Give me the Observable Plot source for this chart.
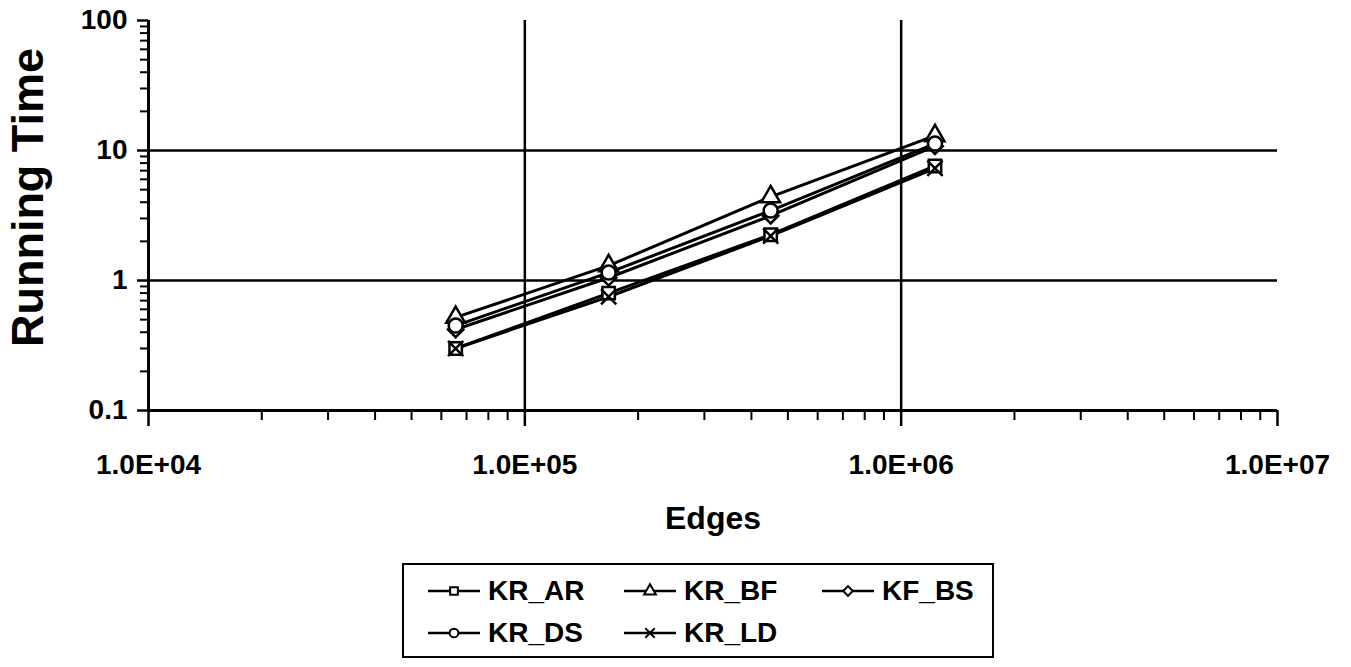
<!DOCTYPE html>
<html><head><meta charset="utf-8">
<script src="https://cdn.jsdelivr.net/npm/d3@7"></script>
<script src="https://cdn.jsdelivr.net/npm/@observablehq/plot@0.6"></script>
<style>
body{margin:0;background:#fff;font-family:"Liberation Sans",Arial,sans-serif;}
#wrap{position:relative;width:1351px;height:667px;overflow:hidden;}
#legend{position:absolute;left:402px;top:563px;width:588px;height:91px;border:2.5px solid #000;box-sizing:content-box;}
.item{position:absolute;display:flex;align-items:center;font-weight:bold;font-size:28px;height:32px;}
.item svg{margin-right:6px;}
</style></head><body>
<div id="wrap"><div id="chart"></div><div id="legend"></div></div>
<script>
// Data
const edges = [65500, 167000, 450000, 1230000];
const seriesNames = ["KR_AR", "KR_BF", "KF_BS", "KR_DS", "KR_LD"];
const KR_AR = [0.30, 0.80, 2.25, 7.6];
const KR_BF = [0.52, 1.30, 4.4, 13.0];
const KF_BS = [0.42, 1.05, 3.15, 10.8];
const KR_DS = [0.45, 1.15, 3.45, 11.3];
const KR_LD = [0.30, 0.75, 2.2, 7.3];
const seriesSymbols = ["square", "triangle", "diamond2", "circle", "times"];
const xTicks = [1e4, 1e5, 1e6, 1e7];
const xTickLabels = ["1.0E+04", "1.0E+05", "1.0E+06", "1.0E+07"];
const yTicks = [0.1, 1, 10, 100];
const yTickLabels = ["0.1", "1", "10", "100"];
const xTitle = "Edges";
const yTitle = "Running Time";

const values = [KR_AR, KR_BF, KF_BS, KR_DS, KR_LD];
const data = seriesNames.flatMap((s, i) => edges.map((e, j) => ({series: s, edges: e, time: values[i][j]})));
const minorX = [1e4, 1e5, 1e6].flatMap(d => [2,3,4,5,6,7,8,9].map(k => d * k));
const minorY = [0.1, 1, 10].flatMap(d => [2,3,4,5,6,7,8,9].map(k => d * k));
const font = "Liberation Sans, Arial, sans-serif";

const chart = Plot.plot({
  width: 1351, height: 545,
  marginLeft: 148, marginRight: 74, marginTop: 20, marginBottom: 135,
  style: {fontFamily: font, background: "#fff"},
  x: {type: "log", domain: [1e4, 1e7], axis: null},
  y: {type: "log", domain: [0.1, 100], axis: null},
  symbol: {domain: seriesNames, range: seriesSymbols},
  marks: [
    Plot.ruleX([1e5, 1e6], {stroke: "#000", strokeWidth: 2.5}),
    Plot.ruleY([1, 10], {stroke: "#000", strokeWidth: 2.5}),
    Plot.ruleX([1e4], {stroke: "#000", strokeWidth: 3}),
    Plot.ruleY([0.1], {stroke: "#000", strokeWidth: 3}),
    Plot.axisX({ticks: minorX, tickSize: 10, tickFormat: () => "", strokeWidth: 2, label: null}),
    Plot.axisX({ticks: xTicks, tickSize: 16, strokeWidth: 2.5, tickPadding: 28,
      tickFormat: d => xTickLabels[xTicks.indexOf(d)], fontSize: 28, fontWeight: "bold", fill: "#000", label: null}),
    Plot.axisY({ticks: minorY, tickSize: 8, tickFormat: () => "", strokeWidth: 2, label: null}),
    Plot.axisY({ticks: yTicks, tickSize: 11, strokeWidth: 2.5, tickPadding: 10,
      tickFormat: d => yTickLabels[yTicks.indexOf(d)], fontSize: 28, fontWeight: "bold", fill: "#000", label: null}),
    Plot.line(data, {x: "edges", y: "time", z: "series", stroke: "#000", strokeWidth: 3}),
    Plot.dot(data, {x: "edges", y: "time", symbol: "series", r: 7, fill: "#fff", stroke: "#000", strokeWidth: 2.5}),
    Plot.text([xTitle], {frameAnchor: "bottom", dy: 118, fontSize: 32, fontWeight: "bold", fill: "#000"}),
    Plot.text([yTitle], {frameAnchor: "left", textAnchor: "middle", dx: -120, dy: -18, rotate: -90, fontSize: 45, fontWeight: "bold", fill: "#000"})
  ]
});
document.getElementById("chart").appendChild(chart);

// Legend
const d3Sym = {square: d3.symbolSquare, triangle: d3.symbolTriangle, diamond2: d3.symbolDiamond2, circle: d3.symbolCircle, times: d3.symbolTimes};
const legend = d3.select("#legend");
const cols = [22, 218, 416];
seriesNames.forEach((name, i) => {
  const row = Math.floor(i / 3), col = i % 3;
  const item = legend.append("div").attr("class", "item")
    .style("left", cols[col] + "px").style("top", (10 + row * 42) + "px");
  const svg = item.append("svg").attr("width", 56).attr("height", 24);
  svg.append("line").attr("x1", 2).attr("x2", 54).attr("y1", 12).attr("y2", 12).attr("stroke", "#000").attr("stroke-width", 2.5);
  svg.append("path").attr("d", d3.symbol(d3Sym[seriesSymbols[i]], 60)()).attr("transform", "translate(28,12)")
    .attr("fill", "#fff").attr("stroke", "#000").attr("stroke-width", 2);
  item.append("span").text(name);
});
</script>
</body></html>
